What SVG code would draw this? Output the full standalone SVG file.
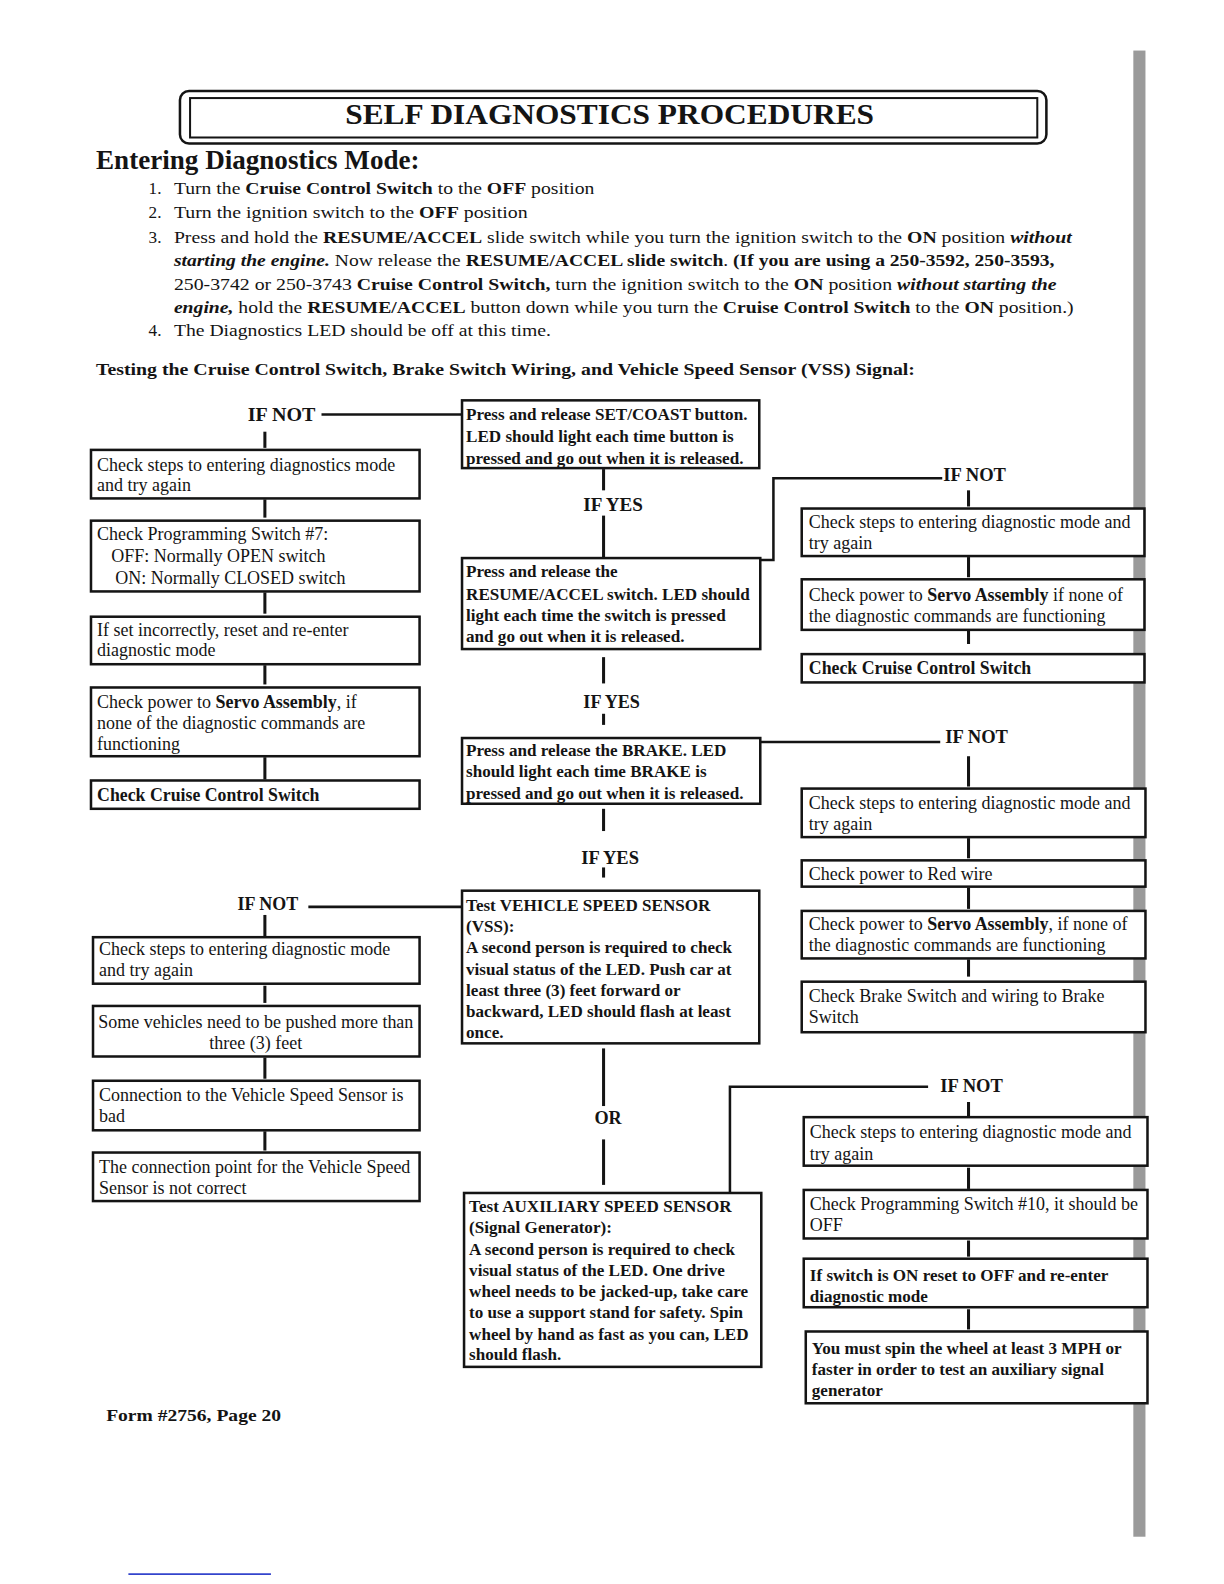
<svg xmlns="http://www.w3.org/2000/svg" width="1224" height="1584" viewBox="0 0 1224 1584">
<style>
text{font-family:"Liberation Serif","Times New Roman",serif;fill:#141414}
.t{font-size:17.8px}
.tb{font-size:16.9px;font-weight:bold}
.tc{font-size:17.6px;font-weight:bold}
.li{font-size:17px}
.b{font-weight:bold}
.bi{font-weight:bold;font-style:italic}
.lab{font-size:18px;font-weight:bold}
.box{fill:#fff;stroke:#141414;stroke-width:2.5}
.con{fill:none;stroke:#141414;stroke-width:2.5}
.tick{fill:none;stroke:#141414;stroke-width:3}
</style>
<rect width="1224" height="1584" fill="#fff"/>
<g transform="scale(1.011)">
<!-- scan artifacts -->
<rect x="1121" y="50" width="12" height="1470" fill="#9a9a9a"/>
<line x1="127" y1="1557" x2="268" y2="1557" stroke="#3344cc" stroke-width="1.5"/>

<g id="title">
<rect x="178" y="90" width="857" height="52" rx="9" fill="none" stroke="#141414" stroke-width="2.5"/>
<rect x="188" y="97" width="838" height="39" fill="none" stroke="#141414" stroke-width="2"/>
<text x="603" y="123" text-anchor="middle" font-size="30" font-weight="bold" textLength="523" lengthAdjust="spacingAndGlyphs">SELF DIAGNOSTICS PROCEDURES</text>
</g>

<g id="intro">
<text x="95" y="167" font-size="26" font-weight="bold" textLength="320" lengthAdjust="spacingAndGlyphs">Entering Diagnostics Mode:</text>
<text class="li" x="147" y="192">1.</text>
<text class="li" x="172" y="192" textLength="416" lengthAdjust="spacingAndGlyphs">Turn the <tspan class="b">Cruise Control Switch</tspan> to the <tspan class="b">OFF</tspan> position</text>
<text class="li" x="147" y="216">2.</text>
<text class="li" x="172" y="216" textLength="350" lengthAdjust="spacingAndGlyphs">Turn the ignition switch to the <tspan class="b">OFF</tspan> position</text>
<text class="li" x="147" y="240">3.</text>
<text class="li" x="172" y="240" textLength="888" lengthAdjust="spacingAndGlyphs">Press and hold the <tspan class="b">RESUME/ACCEL</tspan> slide switch while you turn the ignition switch to the <tspan class="b">ON</tspan> position <tspan class="bi">without</tspan></text>
<text class="li" x="172" y="263" textLength="871" lengthAdjust="spacingAndGlyphs"><tspan class="bi">starting  the engine.</tspan> Now release the <tspan class="b">RESUME/ACCEL slide switch</tspan>. <tspan class="b">(If you are using a 250-3592, 250-3593,</tspan></text>
<text class="li" x="172" y="287" textLength="873" lengthAdjust="spacingAndGlyphs">250-3742 or 250-3743 <tspan class="b">Cruise Control Switch,</tspan> turn the ignition switch to the <tspan class="b">ON</tspan> position <tspan class="bi">without starting the</tspan></text>
<text class="li" x="172" y="310" textLength="890" lengthAdjust="spacingAndGlyphs"><tspan class="bi">engine,</tspan> hold the <tspan class="b">RESUME/ACCEL</tspan> button down while you turn the <tspan class="b">Cruise Control Switch</tspan> to the <tspan class="b">ON</tspan> position.)</text>
<text class="li" x="147" y="332">4.</text>
<text class="li" x="172" y="332" textLength="373" lengthAdjust="spacingAndGlyphs">The Diagnostics LED should be off at this time.</text>
<text x="95" y="371" font-size="17" font-weight="bold" textLength="810" lengthAdjust="spacingAndGlyphs">Testing the Cruise Control Switch, Brake Switch Wiring, and Vehicle Speed Sensor (VSS) Signal:</text>
</g>

<g id="connectors">
<line class="con" x1="318" y1="410" x2="458" y2="410"/>
<line class="tick" x1="262" y1="427" x2="262" y2="443"/>
<line class="tick" x1="262" y1="494" x2="262" y2="512"/>
<line class="tick" x1="262" y1="586" x2="262" y2="607"/>
<line class="tick" x1="262" y1="658" x2="262" y2="677"/>
<line class="tick" x1="262" y1="749" x2="262" y2="771"/>
<line class="tick" x1="597" y1="464" x2="597" y2="485"/>
<line class="tick" x1="597" y1="510" x2="597" y2="551"/>
<line class="tick" x1="597" y1="650" x2="597" y2="676"/>
<line class="tick" x1="597" y1="706" x2="597" y2="717"/>
<line class="tick" x1="597" y1="800" x2="597" y2="822"/>
<line class="tick" x1="597" y1="858" x2="597" y2="868"/>
<line class="tick" x1="597" y1="1037" x2="597" y2="1094"/>
<line class="tick" x1="597" y1="1127" x2="597" y2="1172"/>
<polyline class="con" points="752,554 765,554 765,473 932,473"/>
<line class="tick" x1="958" y1="485" x2="958" y2="501"/>
<line class="tick" x1="958" y1="551" x2="958" y2="571"/>
<line class="tick" x1="958" y1="624" x2="958" y2="637"/>
<line class="con" x1="752" y1="734" x2="930" y2="734"/>
<line class="tick" x1="958" y1="748" x2="958" y2="778"/>
<line class="tick" x1="958" y1="829" x2="958" y2="849"/>
<line class="tick" x1="958" y1="878" x2="958" y2="899"/>
<line class="tick" x1="958" y1="949" x2="958" y2="966"/>
<line class="con" x1="305" y1="897" x2="457" y2="897"/>
<line class="tick" x1="262" y1="905" x2="262" y2="926"/>
<line class="tick" x1="262" y1="975" x2="262" y2="992"/>
<line class="tick" x1="262" y1="1046" x2="262" y2="1067"/>
<line class="tick" x1="262" y1="1119" x2="262" y2="1138"/>
<polyline class="con" points="722,1180 722,1075 918,1075"/>
<line class="tick" x1="958" y1="1090" x2="958" y2="1104"/>
<line class="tick" x1="958" y1="1155" x2="958" y2="1176"/>
<line class="tick" x1="958" y1="1227" x2="958" y2="1243"/>
<line class="tick" x1="958" y1="1295" x2="958" y2="1315"/>
</g>

<g id="labels">
<text class="lab" x="245" y="416" textLength="67" lengthAdjust="spacingAndGlyphs">IF NOT</text>
<text class="lab" x="577" y="505" textLength="59" lengthAdjust="spacingAndGlyphs">IF YES</text>
<text class="lab" x="577" y="700" textLength="56" lengthAdjust="spacingAndGlyphs">IF YES</text>
<text class="lab" x="575" y="855" textLength="57" lengthAdjust="spacingAndGlyphs">IF YES</text>
<text class="lab" x="588" y="1112" textLength="27" lengthAdjust="spacingAndGlyphs">OR</text>
<text class="lab" x="933" y="476" textLength="62" lengthAdjust="spacingAndGlyphs">IF NOT</text>
<text class="lab" x="935" y="735" textLength="62" lengthAdjust="spacingAndGlyphs">IF NOT</text>
<text class="lab" x="235" y="900" textLength="60" lengthAdjust="spacingAndGlyphs">IF NOT</text>
<text class="lab" x="930" y="1080" textLength="62" lengthAdjust="spacingAndGlyphs">IF NOT</text>
</g>

<g id="L1"><rect class="box" x="90" y="445" width="325" height="48"/>
<text class="t" x="96" y="466">Check steps to entering diagnostics mode</text><text class="t" x="96" y="486">and try again</text></g>
<g id="L2"><rect class="box" x="90" y="515" width="325" height="70"/>
<text class="t" x="96" y="534">Check Programming Switch #7:</text><text class="t" x="110" y="556">OFF: Normally OPEN switch</text><text class="t" x="114" y="578">ON: Normally CLOSED switch</text></g>
<g id="L3"><rect class="box" x="90" y="610" width="325" height="47"/>
<text class="t" x="96" y="629">If set incorrectly, reset and re-enter</text><text class="t" x="96" y="649">diagnostic mode</text></g>
<g id="L4"><rect class="box" x="90" y="680" width="325" height="68"/>
<text class="t" x="96" y="700">Check power to <tspan class="b">Servo Assembly</tspan>, if</text><text class="t" x="96" y="721">none of the diagnostic commands are</text><text class="t" x="96" y="742">functioning</text></g>
<g id="L5"><rect class="box" x="90" y="772" width="325" height="28"/>
<text class="tc" x="96" y="792">Check Cruise Control Switch</text></g>

<g id="L6"><rect class="box" x="92" y="927" width="323" height="46"/>
<text class="t" x="98" y="945">Check steps to entering diagnostic mode</text><text class="t" x="98" y="965">and try again</text></g>
<g id="L7"><rect class="box" x="92" y="995" width="323" height="50"/>
<text class="t" x="253" y="1017" text-anchor="middle">Some vehicles need to be pushed more than</text><text class="t" x="253" y="1038" text-anchor="middle">three (3) feet</text></g>
<g id="L8"><rect class="box" x="92" y="1069" width="323" height="49"/>
<text class="t" x="98" y="1089">Connection to the Vehicle Speed Sensor is</text><text class="t" x="98" y="1110">bad</text></g>
<g id="L9"><rect class="box" x="92" y="1140" width="323" height="48"/>
<text class="t" x="98" y="1160">The connection point for the Vehicle Speed</text><text class="t" x="98" y="1181">Sensor is not correct</text></g>

<g id="M1"><rect class="box" x="457" y="396" width="294" height="67"/>
<text class="tb" x="461" y="415">Press and release SET/COAST button.</text><text class="tb" x="461" y="437">LED should light each time button is</text><text class="tb" x="461" y="459">pressed and go out when it is released.</text></g>
<g id="M2"><rect class="box" x="457" y="552" width="295" height="90"/>
<text class="tb" x="461" y="571">Press and release the</text><text class="tb" x="461" y="593">RESUME/ACCEL switch. LED should</text><text class="tb" x="461" y="614">light each time the switch is pressed</text><text class="tb" x="461" y="635">and go out when it is released.</text></g>
<g id="M3"><rect class="box" x="457" y="730" width="295" height="65"/>
<text class="tb" x="461" y="748">Press and release the BRAKE. LED</text><text class="tb" x="461" y="769">should light each time BRAKE is</text><text class="tb" x="461" y="790">pressed and go out when it is released.</text></g>
<g id="M4"><rect class="box" x="457" y="881" width="294" height="151"/>
<text class="tb" x="461" y="901">Test VEHICLE SPEED SENSOR</text><text class="tb" x="461" y="922">(VSS):</text><text class="tb" x="461" y="943">A second person is required to check</text><text class="tb" x="461" y="964">visual status of the LED. Push car at</text><text class="tb" x="461" y="985">least three (3) feet forward or</text><text class="tb" x="461" y="1006">backward, LED should flash at least</text><text class="tb" x="461" y="1027">once.</text></g>
<g id="M5"><rect class="box" x="459" y="1180" width="294" height="172"/>
<text class="tb" x="464" y="1199">Test AUXILIARY SPEED SENSOR</text><text class="tb" x="464" y="1220">(Signal Generator):</text><text class="tb" x="464" y="1241">A second person is required to check</text><text class="tb" x="464" y="1262">visual status of the LED. One drive</text><text class="tb" x="464" y="1283">wheel needs to be jacked-up, take care</text><text class="tb" x="464" y="1304">to use a support stand for safety. Spin</text><text class="tb" x="464" y="1325">wheel by hand as fast as you can, LED</text><text class="tb" x="464" y="1345">should flash.</text></g>

<g id="R1"><rect class="box" x="793" y="503" width="339" height="47"/>
<text class="t" x="800" y="522">Check steps to entering diagnostic mode and</text><text class="t" x="800" y="543">try again</text></g>
<g id="R2"><rect class="box" x="793" y="573" width="339" height="50"/>
<text class="t" x="800" y="594">Check power to <tspan class="b">Servo Assembly</tspan> if none of</text><text class="t" x="800" y="615">the diagnostic commands are functioning</text></g>
<g id="R3"><rect class="box" x="793" y="647" width="339" height="28"/>
<text class="tc" x="800" y="667">Check Cruise Control Switch</text></g>
<g id="R4"><rect class="box" x="793" y="780" width="340" height="48"/>
<text class="t" x="800" y="800">Check steps to entering diagnostic mode and</text><text class="t" x="800" y="821">try again</text></g>
<g id="R5"><rect class="box" x="793" y="851" width="340" height="26"/>
<text class="t" x="800" y="870">Check power to Red wire</text></g>
<g id="R6"><rect class="box" x="793" y="901" width="340" height="47"/>
<text class="t" x="800" y="920">Check power to <tspan class="b">Servo Assembly</tspan>, if none of</text><text class="t" x="800" y="941">the diagnostic commands are functioning</text></g>
<g id="R7"><rect class="box" x="793" y="971" width="340" height="50"/>
<text class="t" x="800" y="991">Check Brake Switch and wiring to Brake</text><text class="t" x="800" y="1012">Switch</text></g>
<g id="R8"><rect class="box" x="795" y="1105" width="340" height="48"/>
<text class="t" x="801" y="1126">Check steps to entering diagnostic mode and</text><text class="t" x="801" y="1147">try again</text></g>
<g id="R9"><rect class="box" x="795" y="1177" width="340" height="48"/>
<text class="t" x="801" y="1197">Check Programming Switch #10, it should be</text><text class="t" x="801" y="1218">OFF</text></g>
<g id="R10"><rect class="box" x="795" y="1245" width="340" height="48"/>
<text class="tb" x="801" y="1267">If switch is ON reset to OFF and re-enter</text><text class="tb" x="801" y="1288">diagnostic mode</text></g>
<g id="R11"><rect class="box" x="797" y="1317" width="338" height="71"/>
<text class="tb" x="803" y="1339">You must spin the wheel at least 3 MPH or</text><text class="tb" x="803" y="1360">faster in order to test an auxiliary signal</text><text class="tb" x="803" y="1381">generator</text></g>

<g id="footer">
<text x="105" y="1406" font-size="17" font-weight="bold" textLength="173" lengthAdjust="spacingAndGlyphs">Form #2756, Page 20</text>
</g>
</g>
</svg>
